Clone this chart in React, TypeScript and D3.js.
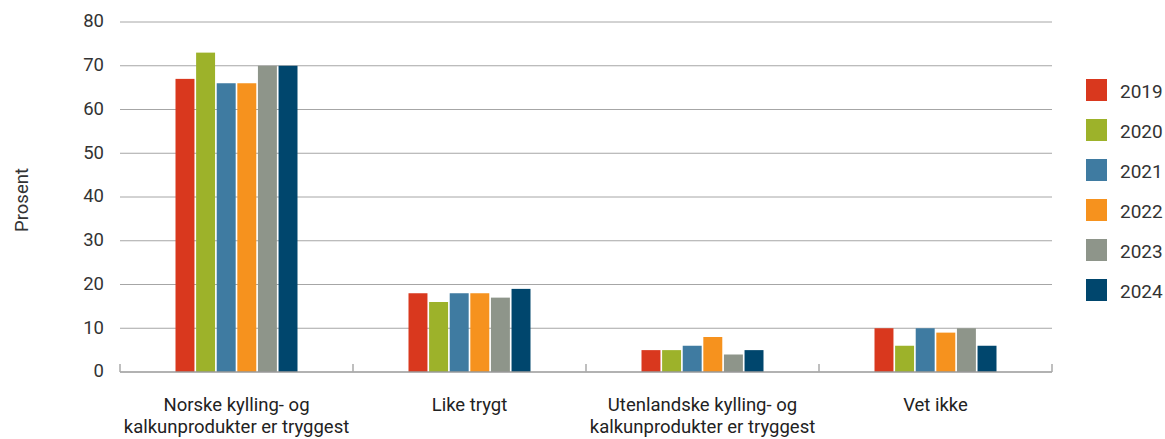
import React from "react";
import * as d3 from "d3";

const categories = [
  ["Norske kylling- og", "kalkunprodukter er tryggest"],
  ["Like trygt"],
  ["Utenlandske kylling- og", "kalkunprodukter er tryggest"],
  ["Vet ikke"],
];
const years = ["2019", "2020", "2021", "2022", "2023", "2024"];
const colors = ["#d9381e", "#9db22a", "#3f7ba1", "#f6921e", "#8e958a", "#00466d"];
const v2019 = [67, 18, 5, 10];
const v2020 = [73, 16, 5, 6];
const v2021 = [66, 18, 6, 10];
const v2022 = [66, 18, 8, 9];
const v2023 = [70, 17, 4, 10];
const v2024 = [70, 19, 5, 6];
const series = [v2019, v2020, v2021, v2022, v2023, v2024];
const yTicks = [0, 10, 20, 30, 40, 50, 60, 70, 80];

export default function App() {
  const W = 1165, H = 439;
  const left = 120, right = 1052, top = 22, bottom = 372;
  const x0 = d3.scaleBand().domain(d3.range(categories.length).map(String)).range([left, right]);
  const innerW = 122;
  const x1 = d3.scaleBand().domain(years).range([0, innerW]).paddingInner(0.08);
  const y = d3.scaleLinear().domain([0, 80]).range([bottom, top]);
  const font = "Roboto, 'Noto Sans', sans-serif";
  const boundaries = d3.range(categories.length + 1).map((i) => left + i * x0.step());

  return (
    <svg width={W} height={H} style={{ position: "absolute", left: 0, top: 0 }} fontFamily={font}>
      {yTicks.map((t) => (
        <g key={t}>
          {t > 0 && <line x1={left} x2={right} y1={y(t)} y2={y(t)} stroke="#a6a6a6" strokeWidth={1} />}
          <text x={104} y={y(t) - 1} dy="0.35em" textAnchor="end" fontSize={18.5} fill="#333">{t}</text>
        </g>
      ))}
      {categories.map((c, ci) => {
        const cx = (x0(String(ci)) as number) + x0.bandwidth() / 2;
        return (
          <g key={ci}>
            {series.map((s, si) => (
              <rect
                key={si}
                x={cx - innerW / 2 + (x1(years[si]) as number)}
                y={y(s[ci])}
                width={x1.bandwidth()}
                height={bottom - y(s[ci])}
                fill={colors[si]}
              />
            ))}
            {c.map((line, li) => (
              <text key={li} x={cx} y={411 + li * 22} textAnchor="middle" fontSize={18.5} fill="#222">{line}</text>
            ))}
          </g>
        );
      })}
      <line x1={left} x2={right} y1={bottom} y2={bottom} stroke="#999" strokeWidth={1.5} />
      {boundaries.map((b, i) => (
        <line key={i} x1={b} x2={b} y1={bottom} y2={bottom - 8} stroke="#aaa" strokeWidth={1.5} />
      ))}
      <text transform={`translate(28,200) rotate(-90)`} textAnchor="middle" fontSize={18.5} fill="#333">Prosent</text>
      {years.map((yr, i) => (
        <g key={yr}>
          <rect x={1086} y={79 + i * 40} width={21} height={22} fill={colors[i]} />
          <text x={1120} y={91 + i * 40} dy="0.35em" fontSize={19} fill="#333">{yr}</text>
        </g>
      ))}
    </svg>
  );
}
